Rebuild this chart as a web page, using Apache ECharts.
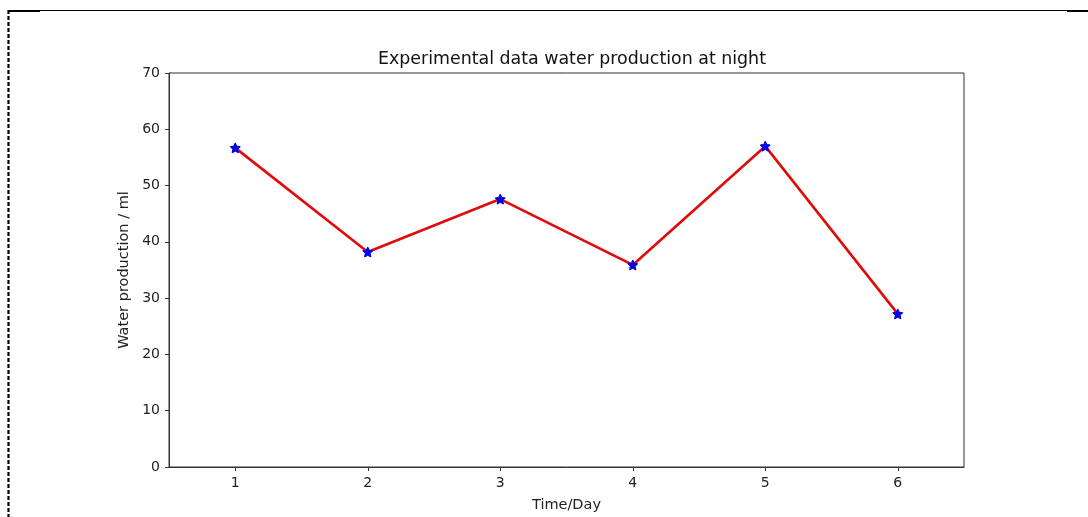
<!DOCTYPE html>
<html lang="en">
<head>
    <meta charset="UTF-8">
    <title>Water production at night</title>
    <script src="https://cdn.jsdelivr.net/npm/echarts@6/dist/echarts.min.js"></script>
    <style>
        html, body { margin: 0; padding: 0; background: #fff; }
    </style>
</head>
<body>
<div id="main" style="width: 1088px;height:517px;"></div>

<script type="text/javascript">
    // data
    var days = [1, 2, 3, 4, 5, 6];
    var water = [56.7, 38.2, 47.6, 35.9, 57.0, 27.2];
    var yTicks = [0, 10, 20, 30, 40, 50, 60, 70];

    var points = [];
    for (var i = 0; i < days.length; i++) {
        points.push([days[i], water[i]]);
    }

    var star = 'path://M0,-10 L2.9,-4 L9.51,-3.09 L4.7,1.53 L5.88,8.09 L0,5 L-5.88,8.09 L-4.7,1.53 L-9.51,-3.09 L-2.9,-4 Z';
    var font = 'DejaVu Sans';

    var myChart = echarts.init(document.getElementById('main'));
    var option = {
        animation: false,
        backgroundColor: '#fff',
        title: {
            text: 'Experimental data water production at night',
            left: 567,
            textAlign: 'center',
            top: 46,
            textStyle: { fontFamily: font, fontSize: 17.4, fontWeight: 'normal', color: '#111' }
        },
        grid: {
            left: 169, right: 124, top: 73, bottom: 50,
            outerBoundsMode: 'none',
            show: true, borderColor: '#333', borderWidth: 1, backgroundColor: 'transparent'
        },
        xAxis: {
            type: 'value',
            min: 0.5, max: 6.5, interval: 0.5,
            name: 'Time/Day',
            nameLocation: 'middle',
            nameGap: 31,
            nameTextStyle: { fontFamily: font, fontSize: 14.5, color: '#222' },
            axisLine: { lineStyle: { color: '#333', width: 1 } },
            axisTick: { show: true, length: 4, customValues: days, lineStyle: { color: '#333' } },
            axisLabel: { customValues: days, fontFamily: font, fontSize: 14, color: '#222', margin: 9 },
            splitLine: { show: false }
        },
        yAxis: {
            type: 'value',
            min: 0, max: 70, interval: 10,
            name: 'Water production / ml',
            nameLocation: 'middle',
            nameGap: 37,
            nameTextStyle: { fontFamily: font, fontSize: 14.5, color: '#222' },
            axisLine: { show: true, lineStyle: { color: '#333', width: 1 } },
            axisTick: { show: true, length: 4, customValues: yTicks, lineStyle: { color: '#333' } },
            axisLabel: { customValues: yTicks, fontFamily: font, fontSize: 14, color: '#222', margin: 9 },
            splitLine: { show: false }
        },
        series: [
            {
                type: 'line',
                data: points,
                lineStyle: { color: '#e00a0a', width: 2.6 },
                symbol: star,
                symbolSize: 10,
                itemStyle: { color: '#0000f0', borderColor: '#0000e0', borderWidth: 1 },
                z: 3
            }
        ],
        graphic: [
            { type: 'line', shape: { x1: 8, y1: 10.5, x2: 1072, y2: 10.5 }, style: { stroke: '#000', lineWidth: 1 } },
            { type: 'line', shape: { x1: 8, y1: 11, x2: 40, y2: 11 }, style: { stroke: '#000', lineWidth: 2 } },
            { type: 'line', shape: { x1: 1067, y1: 11, x2: 1088, y2: 11 }, style: { stroke: '#000', lineWidth: 2 } },
            { type: 'line', shape: { x1: 8.5, y1: 10, x2: 8.5, y2: 517 }, style: { stroke: '#000', lineWidth: 2.2, lineDash: [4, 2] } }
        ]
    };
    myChart.setOption(option);
</script>
</body>
</html>
